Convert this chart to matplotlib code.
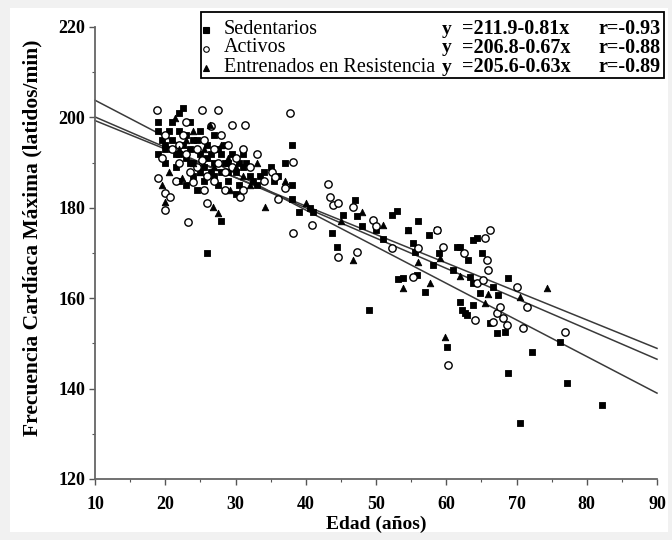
import matplotlib
matplotlib.use("Agg")
import matplotlib.pyplot as plt
from matplotlib.patches import Rectangle
import numpy as np

# ---------------- data ----------------
sed_age = [19, 19, 19.5, 19, 20, 20, 20.5, 21, 21, 21.5, 21.5, 22, 22, 22.5, 22.5, 23, 23, 23.5, 23.5, 24,
           24, 24.5, 25, 25, 25.5, 25.5, 26, 26, 26.5, 27, 27, 27.5, 28, 28, 28.5, 29, 29, 29.5, 30, 30.5,
           31, 31.5, 32, 33, 34, 35, 36, 37, 38, 38, 38, 39, 26, 28, 30, 24.5, 22, 20, 23,
           21, 22, 23.5, 24, 26.5, 27.5, 29, 30.5, 31, 32.5, 25, 27, 28.5, 33.5, 35.5,
           40.6, 41, 43.7, 44.4, 45.3, 47, 47.3, 48, 49, 50, 51, 52.3, 53, 53.1, 53.8, 54.6, 55.3, 55.6,
           55.8, 57, 58.1, 58.7, 60.1, 61, 61.5, 62, 62, 62.2, 62.7, 63, 63.1, 63.4, 63.8, 63.8, 63.8,
           64.4, 64.8, 65.1, 66.2, 66.7, 67.2, 67.4, 68.4, 68.8, 68.8, 70.5, 72.2, 76.2, 77.2, 82.2,
           57.5, 56, 59]
sed_fc = [199, 197, 195, 192, 194, 190, 197, 199, 195, 192, 189, 201, 197, 202, 194, 191, 196, 199, 193, 190,
          187, 195, 192, 197, 189, 186, 194, 191, 188, 196, 190, 185, 192, 188, 194, 186, 190, 192, 188, 185,
          192, 190, 187, 185, 188, 189, 187, 190, 194, 185, 182, 179, 170, 177, 183, 184, 186, 193, 185,
          193, 192, 190, 195, 192, 193, 188, 190, 189, 186, 188, 187, 190, 187, 186,
          180, 179, 174.4, 171.4, 178.4, 181.7, 178.2, 176, 157.4, 175, 173, 178.4, 179.3, 164.2, 164.5,
          175.1, 172.2, 170.2, 165.1, 161.4, 167.3, 175.1, 149.2, 166.2, 171.3, 171.3, 159.2, 157.4, 156.7,
          156.3, 168.5, 164.7, 163.4, 158.5, 172.9, 173.3, 161.2, 170, 154.5, 162.5, 152.3, 160.7, 152.5,
          164.5, 143.4, 132.4, 148.1, 150.3, 141.2, 136.4, 174, 177, 170]

act_age = [18.8, 19, 20, 20.7, 20, 23.2, 25.2, 27.5, 29.5, 31.4, 30.6, 31.1, 24, 25.2, 19.5, 20, 21, 22,
           22.5, 23, 23.5, 24.5, 25.5, 26, 26.5, 27, 27.5, 28, 28.5, 29, 30, 32, 33, 34, 35.2, 35.6, 37,
           37.8, 38.2, 38.2, 40.9, 43.2, 43.5, 43.9, 44.6, 44.6, 46.7, 47.3, 49.6, 50, 52.3, 55.3, 56,
           58.7, 59.5, 60.2, 62.5, 64.1, 64.4, 65.2, 65.5, 65.8, 65.9, 66.2, 66.7, 67.2, 67.7, 68.1, 68.6,
           70.1, 70.9, 71.5, 76.9, 21.5, 28.5, 26, 36, 22, 24.5, 27, 29.5, 31, 25.5, 23]
act_fc = [201.6, 186.6, 183.3, 182.4, 179.5, 176.9, 201.6, 201.6, 198.3, 198.3, 182.4, 183.9, 185.7, 190.6,
          191, 196, 193, 190, 196, 199, 188, 193, 195, 187, 198, 193, 190, 196, 188, 194, 191, 189, 192,
          186, 187.9, 186.8, 184.4, 201, 190.1, 174.4, 176.2, 185.3, 182.4, 180.6, 181, 169.1, 180.2,
          170.2, 177.3, 176, 171.1, 164.7, 171, 175.1, 171.3, 145.2, 170, 155.2, 163.4, 164, 173.3,
          168.5, 166.2, 175.1, 154.7, 156.7, 158.1, 155.6, 154.1, 162.5, 153.4, 158.1, 152.5, 186, 184,
          181, 182, 194, 189, 186, 189, 193, 184, 192]

ent_age = [19.5, 20, 21.4, 22.4, 26.4, 26.8, 27.5, 29.2, 34.2, 20.5, 22, 23, 24, 25, 25.5, 27, 28, 29,
           30, 31, 32, 33, 24, 46.7, 51, 53.8, 54.6, 57.7, 59.1, 59.8, 65.5, 70.5, 74.3, 45, 48, 56, 62,
           66, 40, 37]
ent_fc = [185, 181.3, 199.9, 186.6, 198.3, 180.2, 178.8, 183.9, 180.2, 188, 193, 195, 190, 188, 193, 189,
          194, 191, 189, 187, 185, 190, 197, 168.5, 176.2, 162.3, 175.1, 163.4, 168.9, 151.4, 158.9,
          160.3, 162.3, 177, 179, 168, 165, 161, 181, 186]

groups = ["Sedentarios", "Activos", "Entrenados en Resistencia"]
intercepts = [211.9, 206.8, 205.6]
slopes = [-0.81, -0.67, -0.63]
equations = ["=211.9-0.81x", "=206.8-0.67x", "=205.6-0.63x"]
r_values = ["r=-0.93", "r=-0.88", "r=-0.89"]

x_ticks = [10, 20, 30, 40, 50, 60, 70, 80, 90]
y_ticks = [120, 140, 160, 180, 200, 220]

# ---------------- figure ----------------
serif = ["Liberation Serif", "DejaVu Serif"]
fig = plt.figure(figsize=(6.72, 5.4), dpi=100, facecolor="#f1f1f1")
bg = Rectangle((10 / 672, 8 / 540), 658 / 672, 524 / 540, transform=fig.transFigure,
               facecolor="white", edgecolor="none", zorder=-10)
fig.patches.append(bg)
ax = fig.add_axes([95 / 672, 1 - 479 / 540, 562 / 672, 452 / 540])
ax.set_zorder(1)
ax.set_facecolor("white")

xs = np.array([10, 90])
for b, m in zip(intercepts, slopes):
    ax.plot(xs, b + m * xs, color="#3a3a3a", lw=1.1, zorder=2, clip_on=False)

ax.scatter(sed_age, sed_fc, marker="s", s=22, facecolor="black", edgecolor="black", lw=0.6, zorder=3)
ax.scatter(act_age, act_fc, marker="o", s=28, facecolor="white", edgecolor="black", lw=1.0, zorder=3)
ax.scatter(ent_age, ent_fc, marker="^", s=22, facecolor="black", edgecolor="black", lw=0.6, zorder=3)

ax.set_xlim(10, 90)
ax.set_ylim(120, 220)
ax.set_xticks(x_ticks)
ax.set_yticks(y_ticks)
ax.set_xticks(np.arange(15, 90, 10), minor=True)
ax.set_yticks(np.arange(130, 220, 20), minor=True)
for s in ["top", "right"]:
    ax.spines[s].set_visible(False)
for s in ["left", "bottom"]:
    ax.spines[s].set_color("#666666")
    ax.spines[s].set_linewidth(1.3)
ax.tick_params(which="major", direction="out", length=4, width=1, color="#555555")
ax.tick_params(axis="x", which="major", pad=8)
ax.tick_params(axis="y", which="major", pad=3)
ax.tick_params(which="minor", direction="out", length=2.5, width=0.8, color="#555555")
for lab in ax.get_xticklabels() + ax.get_yticklabels():
    lab.set_family(serif)
    lab.set_fontweight("bold")
    lab.set_fontsize(13)
ax.set_xlabel("Edad (años)", family=serif, fontweight="bold", fontsize=14, labelpad=2)
ax.set_ylabel("Frecuencia Cardíaca Máxima (latidos/min)", family=serif, fontweight="bold",
              fontsize=15.5)
ax.yaxis.set_label_coords(-0.093, 0.533)

# legend box
leg_ax = fig.add_axes([0, 0, 1, 1], facecolor="none")
leg_ax.set_zorder(5)
leg_ax.set_xlim(0, 672)
leg_ax.set_ylim(540, 0)
leg_ax.axis("off")
leg_ax.add_patch(Rectangle((201, 12), 463, 66, facecolor="white", edgecolor="black", lw=1.3))
rows_y = [29, 48, 67]
mk = [("s", "black"), ("o", "white"), ("^", "black")]
for i in range(3):
    yy = rows_y[i]
    leg_ax.plot([206], [yy + 1], marker=mk[i][0], markersize=4, markerfacecolor=mk[i][1],
                markeredgecolor="black", markeredgewidth=0.8, linestyle="none")
    leg_ax.text(224, yy, groups[i], family=serif, fontsize=14.5, va="center", ha="left")
    leg_ax.text(442, yy, "y", family=serif, fontsize=14, fontweight="bold", va="center", ha="left")
    leg_ax.text(462, yy, equations[i], family=serif, fontsize=14.5, fontweight="bold", va="center",
                ha="left")
    leg_ax.text(661, yy, r_values[i], family=serif, fontsize=14.5, fontweight="bold", va="center",
                ha="right")

fig.savefig("out.png", dpi=100, facecolor=fig.get_facecolor())
